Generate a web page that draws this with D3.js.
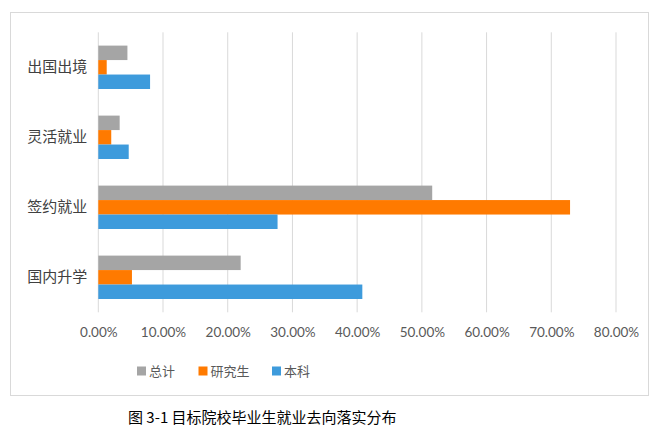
<!DOCTYPE html>
<html>
<head>
<meta charset="utf-8">
<script src="https://cdn.jsdelivr.net/npm/d3@7"></script>
<style>
  body { margin: 0; background: #fff; }
  svg text { font-family: "Noto Sans CJK SC", sans-serif; }
</style>
</head>
<body>
<svg id="chart" width="660" height="437"></svg>
<script>
// categories, top to bottom
const categories = ['出国出境', '灵活就业', '签约就业', '国内升学'];
// series names and values (%)
const seriesNames = ['总计', '研究生', '本科'];
const totalValues = [4.5, 3.3, 51.6, 22.0];
const gradValues = [1.3, 2.0, 72.9, 5.2];
const undergradValues = [8.0, 4.7, 27.7, 40.8];
const xTicks = [0, 10, 20, 30, 40, 50, 60, 70, 80];
const colors = ['#a5a5a5', '#ff7a00', '#3e9bdc'];

const svg = d3.select('#chart');

// outer frame of the chart area
svg.append('rect')
    .attr('x', 10.5).attr('y', 12.5)
    .attr('width', 638).attr('height', 383)
    .attr('fill', 'none')
    .attr('stroke', '#d9d9d9');

const x = d3.scaleLinear().domain([0, 80]).range([98.3, 616]);
const y = d3.scaleBand().domain(categories).range([32.3, 312.3])
    .paddingInner(0.38).paddingOuter(0.19);
const ySub = d3.scaleBand().domain(seriesNames).range([0, y.bandwidth()]);

// vertical gridlines
svg.append('g')
    .selectAll('line')
    .data(xTicks)
    .join('line')
    .attr('x1', d => x(d)).attr('x2', d => x(d))
    .attr('y1', 32.3).attr('y2', 312.3)
    .attr('stroke', '#d9d9d9')
    .attr('stroke-width', 1);

// x axis labels
const xAxis = d3.axisBottom(x)
    .tickValues(xTicks)
    .tickSize(0)
    .tickPadding(0)
    .tickFormat(d => d.toFixed(2) + '%');
const gx = svg.append('g')
    .attr('transform', 'translate(0,327)')
    .call(xAxis);
gx.select('.domain').remove();
gx.selectAll('text')
    .style('font-family', 'Lato, sans-serif')
    .style('font-size', '13.5px')
    .attr('fill', '#595959');

// y axis labels
const yAxis = d3.axisLeft(y).tickSize(0).tickPadding(11);
const gy = svg.append('g')
    .attr('transform', `translate(${x(0)},0)`)
    .call(yAxis);
gy.select('.domain').remove();
gy.selectAll('text')
    .style('font-size', '15px')
    .attr('fill', '#404040');

// bars
const rows = categories.map((c, i) => ({
    cat: c,
    vals: [totalValues[i], gradValues[i], undergradValues[i]]
}));

const groups = svg.append('g')
    .selectAll('g')
    .data(rows)
    .join('g')
    .attr('transform', d => `translate(0,${y(d.cat)})`);

groups.selectAll('rect')
    .data(d => d.vals.map((v, j) => ({ name: seriesNames[j], v: v, color: colors[j] })))
    .join('rect')
    .attr('x', x(0))
    .attr('y', d => ySub(d.name))
    .attr('width', d => x(d.v) - x(0))
    .attr('height', ySub.bandwidth())
    .attr('fill', d => d.color);

// legend
const legendX = [137, 198.5, 272];
const legend = svg.append('g')
    .selectAll('g')
    .data(seriesNames)
    .join('g')
    .attr('transform', (d, i) => `translate(${legendX[i]},371)`);
legend.append('rect')
    .attr('x', 0).attr('y', -4.5)
    .attr('width', 9).attr('height', 9)
    .attr('fill', (d, i) => colors[i]);
legend.append('text')
    .attr('x', 12)
    .attr('dy', '0.35em')
    .style('font-size', '13px')
    .attr('fill', '#595959')
    .text(d => d);

// caption below the chart
svg.append('text')
    .attr('x', 128)
    .attr('y', 418)
    .attr('dy', '0.35em')
    .style('font-size', '15px')
    .attr('fill', '#000')
    .text('图 3-1 目标院校毕业生就业去向落实分布');
</script>
</body>
</html>
